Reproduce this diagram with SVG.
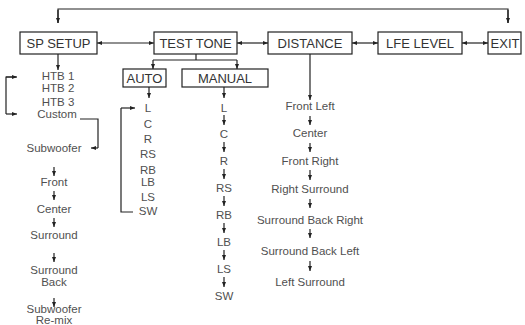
<svg xmlns="http://www.w3.org/2000/svg" width="525" height="325" viewBox="0 0 525 325">
<defs>
<style>
.box{fill:#fff;stroke:#222;stroke-width:1.2}
.bt{font-family:"Liberation Sans",Arial,sans-serif;font-size:13px;fill:#333;text-anchor:middle}
.t{font-family:"Liberation Sans",Arial,sans-serif;font-size:11.5px;fill:#505050;text-anchor:middle}
.c{fill:none;stroke:#222;stroke-width:1.2}
.a{marker-end:url(#ah)}
.d{marker-start:url(#ah);marker-end:url(#ah)}
</style>
<marker id="ah" viewBox="0 0 10 8" markerWidth="5" markerHeight="4.5" refX="10" refY="4" orient="auto-start-reverse" markerUnits="userSpaceOnUse">
<path d="M0,0 L10,4 L0,8 z" fill="#222"/>
</marker>
</defs>
<rect width="525" height="325" fill="#fff"/>
<g id="connectors">
<path class="c" d="M58,23 V9 H508 V23"/>
<path class="c a" d="M58,10 V23"/>
<path class="c a" d="M508,10 V23"/>
<path class="c d" d="M97,43 H154"/>
<path class="c d" d="M237,43 H268"/>
<path class="c d" d="M352,43 H378"/>
<path class="c d" d="M462,43 H488"/>
<path class="c" d="M196,54 V60 M153,60 H237"/>
<path class="c a" d="M153,60 V69"/>
<path class="c a" d="M237,60 V69"/>
<path class="c a" d="M58,54 V70"/>
<path class="c" d="M16,77 H6 V114"/>
<path class="c a" d="M6,77 H17"/>
<path class="c a" d="M6,114 H17"/>
<path class="c" d="M80,119 H98 V148"/>
<path class="c a" d="M98,148 H91"/>
<path class="c a" d="M54,167 V176"/>
<path class="c a" d="M54,191 V200"/>
<path class="c a" d="M54,218 V227"/>
<path class="c a" d="M54,253 V262"/>
<path class="c a" d="M54,298 V307"/>
<path class="c a" d="M149,87 V98"/>
<path class="c" d="M133,212 H121 V108"/>
<path class="c a" d="M121,108 H135"/>
<path class="c a" d="M224,87 V98"/>
<path class="c a" d="M224,115 V125"/>
<path class="c a" d="M224,142 V152"/>
<path class="c a" d="M224,169 V179"/>
<path class="c a" d="M224,196 V206"/>
<path class="c a" d="M224,223 V233"/>
<path class="c a" d="M224,250 V260"/>
<path class="c a" d="M224,277 V287"/>
<path class="c a" d="M310,54 V100"/>
<path class="c a" d="M310,116 V125"/>
<path class="c a" d="M310,143 V152"/>
<path class="c a" d="M310,170 V180"/>
<path class="c a" d="M310,199 V208"/>
<path class="c a" d="M310,229 V238"/>
<path class="c a" d="M310,261 V271"/>
</g>
<g id="sp-setup"><rect class="box" x="20" y="32" width="77" height="22"/><text class="bt" x="58.5" y="48">SP SETUP</text></g>
<g id="test-tone"><rect class="box" x="154" y="32" width="83" height="22"/><text class="bt" x="195.5" y="48">TEST TONE</text></g>
<g id="distance"><rect class="box" x="268" y="32" width="84" height="22"/><text class="bt" x="310" y="48">DISTANCE</text></g>
<g id="lfe-level"><rect class="box" x="378" y="32" width="84" height="22"/><text class="bt" x="420" y="48">LFE LEVEL</text></g>
<g id="exit"><rect class="box" x="488" y="32" width="33" height="22"/><text class="bt" x="505" y="48">EXIT</text></g>
<g id="auto"><rect class="box" x="123" y="69" width="43" height="18"/><text class="bt" x="144.5" y="83">AUTO</text></g>
<g id="manual"><rect class="box" x="182" y="69" width="86" height="18"/><text class="bt" x="225" y="83">MANUAL</text></g>
<g id="sp-items">
<text class="t" x="58" y="80">HTB 1</text>
<text class="t" x="58" y="92">HTB 2</text>
<text class="t" x="58" y="106">HTB 3</text>
<text class="t" x="57" y="118">Custom</text>
<text class="t" x="54" y="152">Subwoofer</text>
<text class="t" x="54" y="186">Front</text>
<text class="t" x="54" y="213">Center</text>
<text class="t" x="54" y="239">Surround</text>
<text class="t" x="54" y="274">Surround</text>
<text class="t" x="54" y="286">Back</text>
<text class="t" x="54" y="313">Subwoofer</text>
<text class="t" x="54" y="324">Re-mix</text>
</g>
<g id="auto-items">
<text class="t" x="148" y="112">L</text>
<text class="t" x="148" y="128">C</text>
<text class="t" x="148" y="143">R</text>
<text class="t" x="148" y="158">RS</text>
<text class="t" x="148" y="174">RB</text>
<text class="t" x="148" y="186">LB</text>
<text class="t" x="148" y="201">LS</text>
<text class="t" x="148" y="215">SW</text>
</g>
<g id="manual-items">
<text class="t" x="224" y="112">L</text>
<text class="t" x="224" y="138">C</text>
<text class="t" x="224" y="165">R</text>
<text class="t" x="224" y="192">RS</text>
<text class="t" x="224" y="219">RB</text>
<text class="t" x="224" y="246">LB</text>
<text class="t" x="224" y="273">LS</text>
<text class="t" x="224" y="300">SW</text>
</g>
<g id="distance-items">
<text class="t" x="310" y="110">Front Left</text>
<text class="t" x="310" y="137">Center</text>
<text class="t" x="310" y="165">Front Right</text>
<text class="t" x="310" y="193">Right Surround</text>
<text class="t" x="310" y="224">Surround Back Right</text>
<text class="t" x="310" y="255">Surround Back Left</text>
<text class="t" x="310" y="286">Left Surround</text>
</g>
</svg>
